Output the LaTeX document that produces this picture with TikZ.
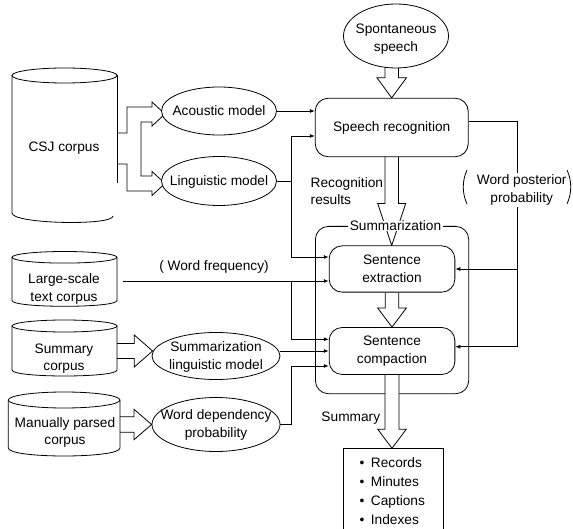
\documentclass[tikz,border=0pt]{standalone}
\usepackage{fontspec}
\setmainfont{Liberation Sans}
\usetikzlibrary{arrows.meta,calc,shapes.geometric}
\pgfdeclarelayer{bg}
\pgfdeclarelayer{mid}
\pgfsetlayers{bg,mid,main}
\newcommand{\cylshape}[5]{%
  \draw[line] ({(#1+#2)/2},#3) ellipse [x radius={(#2-#1)/2}, y radius=#5];
  \draw[line] (#1,#3) -- (#1,#4) .. controls (#1,{#4+1.333*#5}) and (#2,{#4+1.333*#5}) .. (#2,#4) -- (#2,#3);
}
\newcommand{\downblk}[5]{%
  \draw[blk] ($(#1)+(-#3,0)$) -- ($(#2)+(-#3,-#5)$) -- ($(#2)+(-#4,-#5)$) -- (#2)
    -- ($(#2)+(#4,-#5)$) -- ($(#2)+(#3,-#5)$) -- ($(#1)+(#3,0)$);
}
\newcommand{\rightblk}[5]{%
  \draw[blk] ($(#1)+(0,-#3)$) -- ($(#2)+(-#5,-#3)$) -- ($(#2)+(-#5,-#4)$) -- (#2)
    -- ($(#2)+(-#5,#4)$) -- ($(#2)+(-#5,#3)$) -- ($(#1)+(0,#3)$);
}
\begin{document}
\begin{tikzpicture}[x=1pt,y=-1pt,
  every node/.style={font=\fontsize{13.7}{17.5}\selectfont},
  line/.style={line width=0.8pt},
  conn/.style={line width=0.8pt,-{Latex[length=5pt,width=4pt]}},
  ell/.style={draw,line width=0.8pt,ellipse,inner sep=0pt,fill=white},
  rbox/.style={draw,line width=0.8pt,rounded corners=13pt,inner sep=0pt,fill=white,align=center},
  txt/.style={inner sep=0pt,align=center},
  blk/.style={draw,line width=0.8pt,fill=white,line join=miter}
]
\useasboundingbox (0,0) rectangle (573,529);
\clip (0,0) rectangle (573,529);

% main nodes
\node[ell,minimum width=105,minimum height=64] (sp) at (396,36) {};
\node[txt] (spt) at (396,39) {Spontaneous\\speech};
\node[rbox,minimum width=153,minimum height=58.5] (sr) at (391.7,127.5) {Speech recognition};
\node[ell,minimum width=115,minimum height=48] (acm) at (219,111) {};
\node[txt] (acmt) at (acm) {Acoustic model};
\node[ell,minimum width=115,minimum height=49] (lm) at (219,181) {};
\node[txt] (lmt) at (219,182) {Linguistic model};
\node[ell,minimum width=128,minimum height=47] (slm) at (216,356) {};
\node[txt] (slmt) at (216,357) {Summarization\\linguistic model};
\node[ell,minimum width=128,minimum height=54] (wdp) at (216,424.5) {};
\node[txt] (wdpt) at (216,425) {Word dependency\\probability};
\node[rbox,minimum width=125.7,minimum height=46.3] (extr) at (392,269) {Sentence\\extraction};
\node[rbox,minimum width=125.7,minimum height=47] (comp) at (392,351) {Sentence\\compaction};
\node[draw,line width=0.8pt,minimum width=100.6,minimum height=90,anchor=north west,inner sep=0pt] (outbox) at (342.7,448.3) {};

% summarization frame
\begin{pgfonlayer}{bg}
\node[draw,line width=0.8pt,rounded corners=13pt,minimum width=153.3,minimum height=167.3,anchor=north west,inner sep=0pt] (summ) at (315,226) {};
\end{pgfonlayer}

% cylinders
\draw[line] (64.5,75.5) ellipse [x radius=52.5, y radius=7.5];
\draw[line] (12,75.5) -- (12,213) .. controls (12,224) and (113,226) .. (113,216);
\draw[line] (117,75.5) -- (117,183);
\node[txt] (csj) at (64,148) {CSJ corpus};
\cylshape{12}{117}{257.3}{300.5}{5.8}
\node[txt] (lstc) at (64,289) {Large-scale\\text corpus};
\cylshape{12}{117}{326}{370}{6}
\node[txt] (sc) at (64,358.5) {Summary\\corpus};
\cylshape{8.3}{120}{400}{448}{8}
\node[txt] (mpc) at (65,432.5) {Manually parsed\\corpus};

% block arrows
\coordinate (spb) at ($(sr.north |- sp.south)+(0,-4)$);
\coordinate (sct) at ($(slm.west)+(1,-5)$);
\coordinate (scs) at (117,351);
\coordinate (mps) at (120,424.5);
\begin{pgfonlayer}{mid}
\draw[blk] (117,133) -- (127,133) -- (127,107) -- (152,107) -- (152,102) -- (165,114) -- (152,126)
  -- (152,122) -- (141,122) -- (141,176) -- (152,176) -- (152,171.5) -- (165,183.5) -- (152,195.5)
  -- (152,191) -- (127,191) -- (127,164) -- (117,164);
\downblk{spb}{sr.north}{6.7}{14.7}{20}
\downblk{sr.south}{sr.south |- extr.north}{6.7}{14}{42}
\downblk{extr.south}{extr.south |- comp.north}{6.7}{14.3}{19}
\downblk{comp.south}{comp.south |- outbox.north}{7}{14.2}{19}
\rightblk{scs}{sct}{7.5}{16}{18.3}
\rightblk{mps}{wdp.west}{7.8}{15.3}{17.7}
\end{pgfonlayer}

% connectors
\coordinate (busx) at (291,0);
\coordinate (postx) at (517.3,0);
\coordinate (lsout) at (123.3,281);
\coordinate (slmo) at ($(slm.east)+(-0.6,-5)$);
\draw[conn] (acm.east) -- (acm.east -| sr.west);
\draw[line] (lm.east) -- (lm.east -| busx);
\draw[conn] (lm.east -| busx) |- ($(sr.west)+(0,8.5)$);
\draw[conn] (lm.east -| busx) |- ($(extr.west)+(0,-12)$);
\draw[conn] (lsout) -- (lsout -| extr.west);
\draw[conn] (lsout -| busx) |- ($(comp.west)+(0,-11.7)$);
\draw[conn] (slmo) -- (slmo -| comp.west);
\draw[conn] (wdp.east) -- (wdp.east -| busx) |- ($(comp.west)+(0,15)$);
\draw[conn] ($(sr.east)+(0,-5.8)$) -| ($(postx |- comp.east)+(0,-4.3)$) -- ($(comp.east)+(0,-4.3)$);
\draw[conn] (postx |- extr.east) -- (extr.east);

% labels
\node[txt,fill=white,inner xsep=1.5pt] (summl) at (395.5,226) {Summarization};
\node[txt,anchor=west,align=left] (rr) at (310.5,191) {Recognition\\results};
\node[txt,fill=white,inner sep=2pt] (wpp) at (521.7,190) {Word posterior\\probability};
\draw[line] (467,170) .. controls (462,181) and (462,193) .. (467,204);
\draw[line] (567,170) .. controls (572,181) and (572,193) .. (567,204);
\node[txt] (wf) at (214,267) {( Word frequency)};
\node[txt,anchor=base] (sumlab) at (350.8,421) {Summary};
\node[txt,anchor=base west] (b1) at (359.3,467.5) {\makebox[11.4pt][l]{•}Records};
\node[txt,anchor=base west] (b2) at (359.3,486.5) {\makebox[11.4pt][l]{•}Minutes};
\node[txt,anchor=base west] (b3) at (359.3,505.5) {\makebox[11.4pt][l]{•}Captions};
\node[txt,anchor=base west] (b4) at (359.3,524.5) {\makebox[11.4pt][l]{•}Indexes};
\end{tikzpicture}
\end{document}
